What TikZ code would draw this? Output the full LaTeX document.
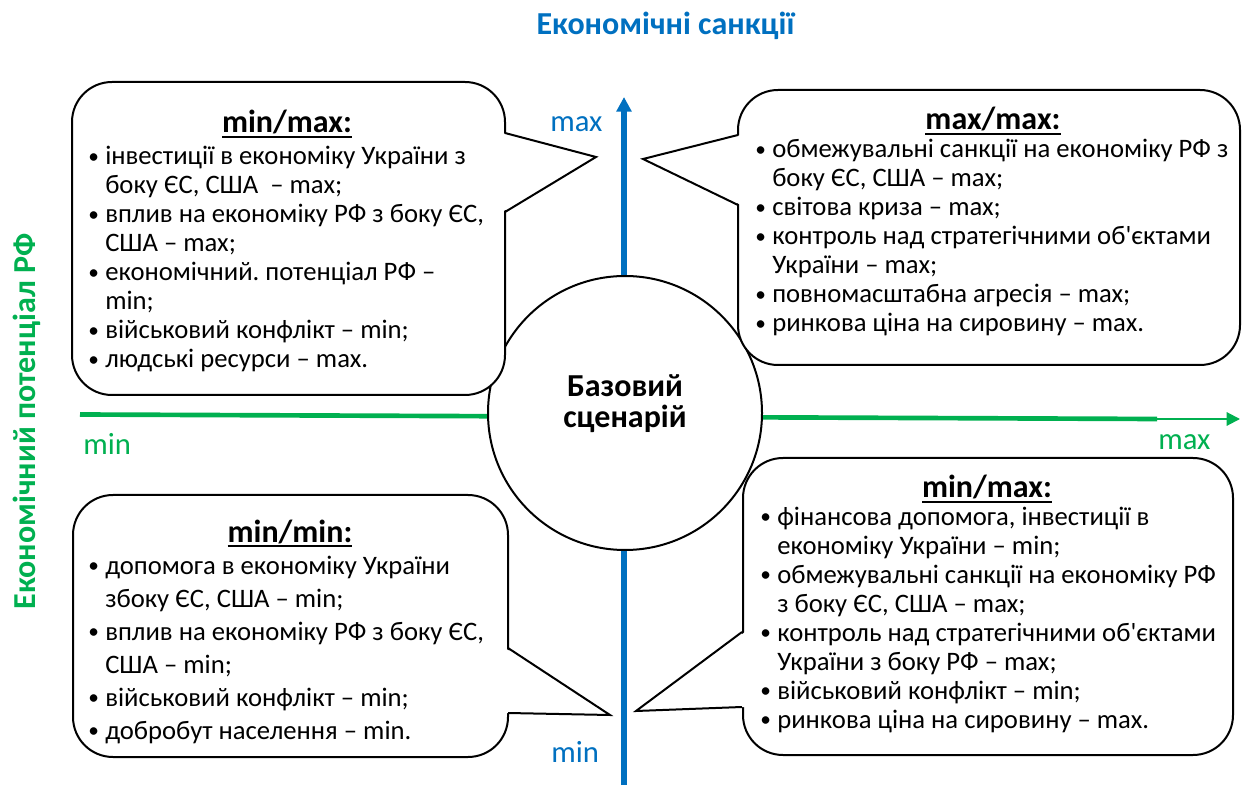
\documentclass[tikz,border=0pt]{standalone}
\usepackage{fontspec}
\setmainfont{Carlito}
\usetikzlibrary{arrows.meta}

\definecolor{sblue}{RGB}{0,112,192}
\definecolor{sgreen}{RGB}{0,176,80}

\newcommand{\bul}{\llap{\makebox[12.75pt][l]{\raisebox{0.8pt}{\fontsize{16}{16}\selectfont\textbullet}}}}
\newcommand{\hd}[1]{\setbox0\hbox{#1}\rlap{\rule[-3.75pt]{\wd0}{1.5pt}}\box0}
\frenchspacing

\begin{document}
\begin{tikzpicture}[x=0.75pt, y=-0.75pt,
  bubble/.style={draw, line width=1.5pt, fill=white, rounded corners=30pt},
  head/.style={anchor=base, inner sep=0pt, font=\fontsize{24}{28}\selectfont\bfseries},
  items/.style={anchor=base west, align=left, inner sep=0pt, font=\fontsize{20}{21.75}\selectfont},
  axlbl/.style={anchor=base west, inner sep=0pt, font=\fontsize{23}{27}\selectfont}]

\useasboundingbox (0,0) rectangle (1242,787);

% axes
\coordinate (ybot) at (624,785);
\coordinate (ytop) at (624,97);
\coordinate (xl) at (80,414.5);
\coordinate (xm) at (1157,419);
\coordinate (xr) at (1240,419);
\draw[sblue, line width=4pt, -{Triangle[length=11pt,width=11pt]}] (ybot) -- (ytop);
\draw[sgreen, line width=3.5pt] (xl) -- (xm);
\draw[sgreen, line width=1.5pt, -{Triangle[length=10pt,width=10pt]}] (xm) -- (xr);

\node[anchor=base, inner sep=0pt, text=sblue, font=\fontsize{24}{28}\selectfont\bfseries] (title) at (665.5,35) {Економічні санкції};
\node[anchor=base, inner sep=0pt, rotate=90, text=sgreen, font=\fontsize{24}{28}\selectfont\bfseries] (ylabel) at (35,421.5) {Економічний потенціал РФ};
\node[axlbl, text=sblue] (ymax) at (550,132) {max};
\node[axlbl, text=sblue] (ymin) at (551,762) {min};
\node[axlbl, text=sgreen] (xmin) at (83,455) {min};
\node[axlbl, text=sgreen] (xmax) at (1158,450) {max};

% centre
\node[circle, draw, line width=1.5pt, fill=white, minimum size=205.5pt, inner sep=0pt] (base) at (625,413) {};
\node[align=center, inner sep=0pt, font=\fontsize{24}{23.25}\selectfont\bfseries] (basetxt) at (625,404) {Базовий\\сценарій};

% min/max, top left
\draw[bubble] (72,82) rectangle (505,395);
\fill[white] (502,133) -- (596,157) -- (502,212) -- cycle;
\draw[line width=1.5pt] (505,133) -- (596,157) -- (505,212);
\node[head] (tlhead) at (287,133) {\hd{min/max:}};
\node[items] (tlitems) at (105,368) {\bul інвестиції в економіку України з\\
  боку ЄС, США~~– max;\\
  \bul вплив на економіку РФ з боку ЄС,\\
  США – max;\\
  \bul економічний. потенціал РФ –\\
  min;\\
  \bul військовий конфлікт – min;\\
  \bul людські ресурси – max.};

% max/max, top right
\draw[bubble] (738,90) rectangle (1240,365);
\fill[white] (741,135) -- (643,159) -- (741,205) -- cycle;
\draw[line width=1.5pt] (738,135) -- (643,159) -- (738,205);
\node[head] (trhead) at (993,130) {\hd{max/max:}};
\node[items] (tritems) at (772,331.5) {\bul обмежувальні санкції на економіку РФ з\\
  боку ЄС, США – max;\\
  \bul світова криза – max;\\
  \bul контроль над стратегічними об\textquotesingle єктами\\
  України – max;\\
  \bul повномасштабна агресія – max;\\
  \bul ринкова ціна на сировину – max.};

% min/min, bottom left
\draw[bubble] (73,495) rectangle (508,757);
\fill[white] (505,648) -- (610,715) -- (505,713) -- cycle;
\draw[line width=1.5pt] (508,648) -- (610,715) -- (508,713);
\node[head] (blhead) at (290,542) {\hd{min/min:}};
\node[items, font=\fontsize{20}{24.75}\selectfont] (blitems) at (105,739) {\bul допомога в економіку України\\
  збоку ЄС, США – min;\\
  \bul вплив на економіку РФ з боку ЄС,\\
  США – min;\\
  \bul військовий конфлікт – min;\\
  \bul добробут населення – min.};

% min/max, bottom right
\draw[bubble] (743,458) rectangle (1233,755);
\fill[white] (745,632) -- (636,711) -- (745,707) -- cycle;
\draw[line width=1.5pt] (742,632) -- (636,711) -- (742,707);
\node[head] (brhead) at (987,498) {\hd{min/max:}};
\node[items] (britems) at (777,728) {\bul фінансова допомога, інвестиції в\\
  економіку України – min;\\
  \bul обмежувальні санкції на економіку РФ\\
  з боку ЄС, США – max;\\
  \bul контроль над стратегічними об\textquotesingle єктами\\
  України з боку РФ – max;\\
  \bul військовий конфлікт – min;\\
  \bul ринкова ціна на сировину – max.};
\end{tikzpicture}
\end{document}
